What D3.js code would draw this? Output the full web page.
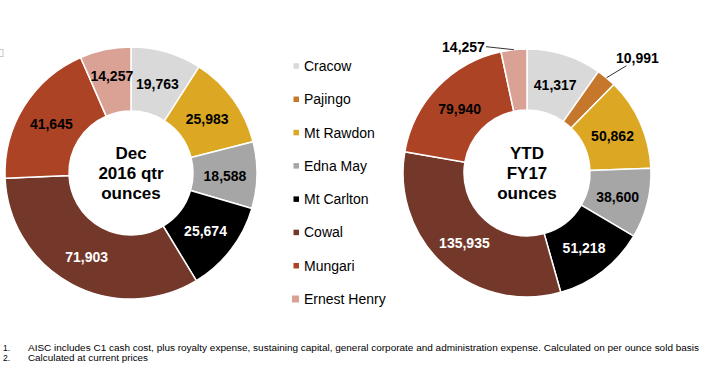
<!DOCTYPE html>
<html><head><meta charset="utf-8">
<script src="https://cdn.jsdelivr.net/npm/d3@7"></script>
<style>html,body{margin:0;padding:0;background:#fff;}svg{display:block;font-family:"Liberation Sans",Arial,sans-serif;}</style>
</head><body>
<svg id="chart" width="713" height="368"></svg>
<script>
const categories = ["Cracow","Pajingo","Mt Rawdon","Edna May","Mt Carlton","Cowal","Mungari","Ernest Henry"];
const colors = ["#d9d9d9","#c5782c","#dca823","#a6a6a6","#000000","#74382a","#ad4325","#d9a295"];
const labelColors = ["#000","#000","#000","#000","#fff","#fff","#000","#000"];
const decQtr = [19763, 0, 25983, 18588, 25674, 71903, 41645, 14257];
const ytdFY17 = [41317, 10991, 50862, 38600, 51218, 135935, 79940, 14257];
const centerDec = ["Dec","2016 qtr","ounces"];
const centerYtd = ["YTD","FY17","ounces"];
const footnotes = [["1.","AISC includes C1 cash cost, plus royalty expense, sustaining capital, general corporate and administration expense. Calculated on per ounce sold basis"],["2.","Calculated at current prices"]];

const svg = d3.select("#chart");
const fmt = d3.format(",");

// tiny artifact box at the top-left
svg.append("rect").attr("x",-4).attr("y",49.5).attr("width",7).attr("height",7)
  .attr("fill","none").attr("stroke","#c8c8c8").attr("stroke-width",1);

function donut(cfg){
  const g = svg.append("g").attr("transform",`translate(${cfg.cx},${cfg.cy})`);
  const pie = d3.pie().sort(null).value(d=>d.v);
  const data = pie(cfg.values.map((v,i)=>({v,i})));
  const arc = d3.arc().innerRadius(cfg.ri).outerRadius(cfg.ro);
  g.selectAll("path").data(data.filter(d=>d.data.v>0)).join("path")
    .attr("d",arc).attr("fill",d=>colors[d.data.i])
    .attr("stroke","#fff").attr("stroke-width",1.5);
  data.filter(d=>d.data.v>0).forEach(d=>{
    const i = d.data.i;
    const out = cfg.outside[i];
    if(out){
      const a = (d.startAngle+d.endAngle)/2;
      const p0 = [cfg.ro*Math.sin(a), -cfg.ro*Math.cos(a)];
      const p1 = [p0[0]+out.lx, p0[1]+out.ly];
      g.append("line").attr("x1",p0[0]).attr("y1",p0[1]).attr("x2",p1[0]).attr("y2",p1[1])
        .attr("stroke","#000").attr("stroke-width",0.8);
      g.append("text").attr("x",p0[0]+out.tx).attr("y",p0[1]+out.ty)
        .attr("text-anchor",out.anchor).attr("dominant-baseline","central")
        .attr("font-size",14).attr("font-weight","bold").attr("fill","#000")
        .text(fmt(d.data.v));
    } else {
      const c = arc.centroid(d);
      const dy = (cfg.dy && cfg.dy[i]) || 0;
      g.append("text").attr("x",c[0]).attr("y",c[1]+dy+1)
        .attr("text-anchor","middle").attr("dominant-baseline","central")
        .attr("font-size",14).attr("font-weight","bold").attr("fill",labelColors[i])
        .text(fmt(d.data.v));
    }
  });
  cfg.center.forEach((t,k)=>{
    g.append("text").attr("x",0).attr("y",-20+k*20)
      .attr("text-anchor","middle").attr("dominant-baseline","central")
      .attr("font-size",17).attr("font-weight","bold").attr("fill","#000").text(t);
  });
}

donut({cx:131, cy:173, ro:126, ri:62, values:decQtr, center:centerDec, outside:{}, dy:{7:-6}});
donut({cx:527, cy:173, ro:124, ri:63, values:ytdFY17, center:centerYtd,
  outside:{1:{lx:20,ly:-12,tx:31,ty:-20,anchor:"middle"},7:{lx:-28,ly:-3,tx:-29,ty:-3,anchor:"end"}}});

// legend
const ly = d3.scalePoint().domain(categories).range([66,299]);
const leg = svg.append("g");
categories.forEach((c,i)=>{
  const s = i===categories.length-1 ? 7 : 5.5;
  leg.append("rect").attr("x",299-s).attr("y",ly(c)-s/2).attr("width",s).attr("height",s).attr("fill",colors[i]);
  leg.append("text").attr("x",304).attr("y",ly(c)).attr("dominant-baseline","central")
    .attr("font-size",14).attr("fill","#000").text(c);
});

// footnotes
const fnLen = [671, 120];
footnotes.forEach((f,k)=>{
  const y = 350.5 + k*10;
  svg.append("text").attr("x",3).attr("y",y).attr("font-size",8.5).attr("fill","#000").text(f[0]);
  svg.append("text").attr("x",28).attr("y",y).attr("font-size",8.5).attr("fill","#000")
    .attr("textLength",fnLen[k]).attr("lengthAdjust","spacingAndGlyphs").text(f[1]);
});
</script>
</body></html>
